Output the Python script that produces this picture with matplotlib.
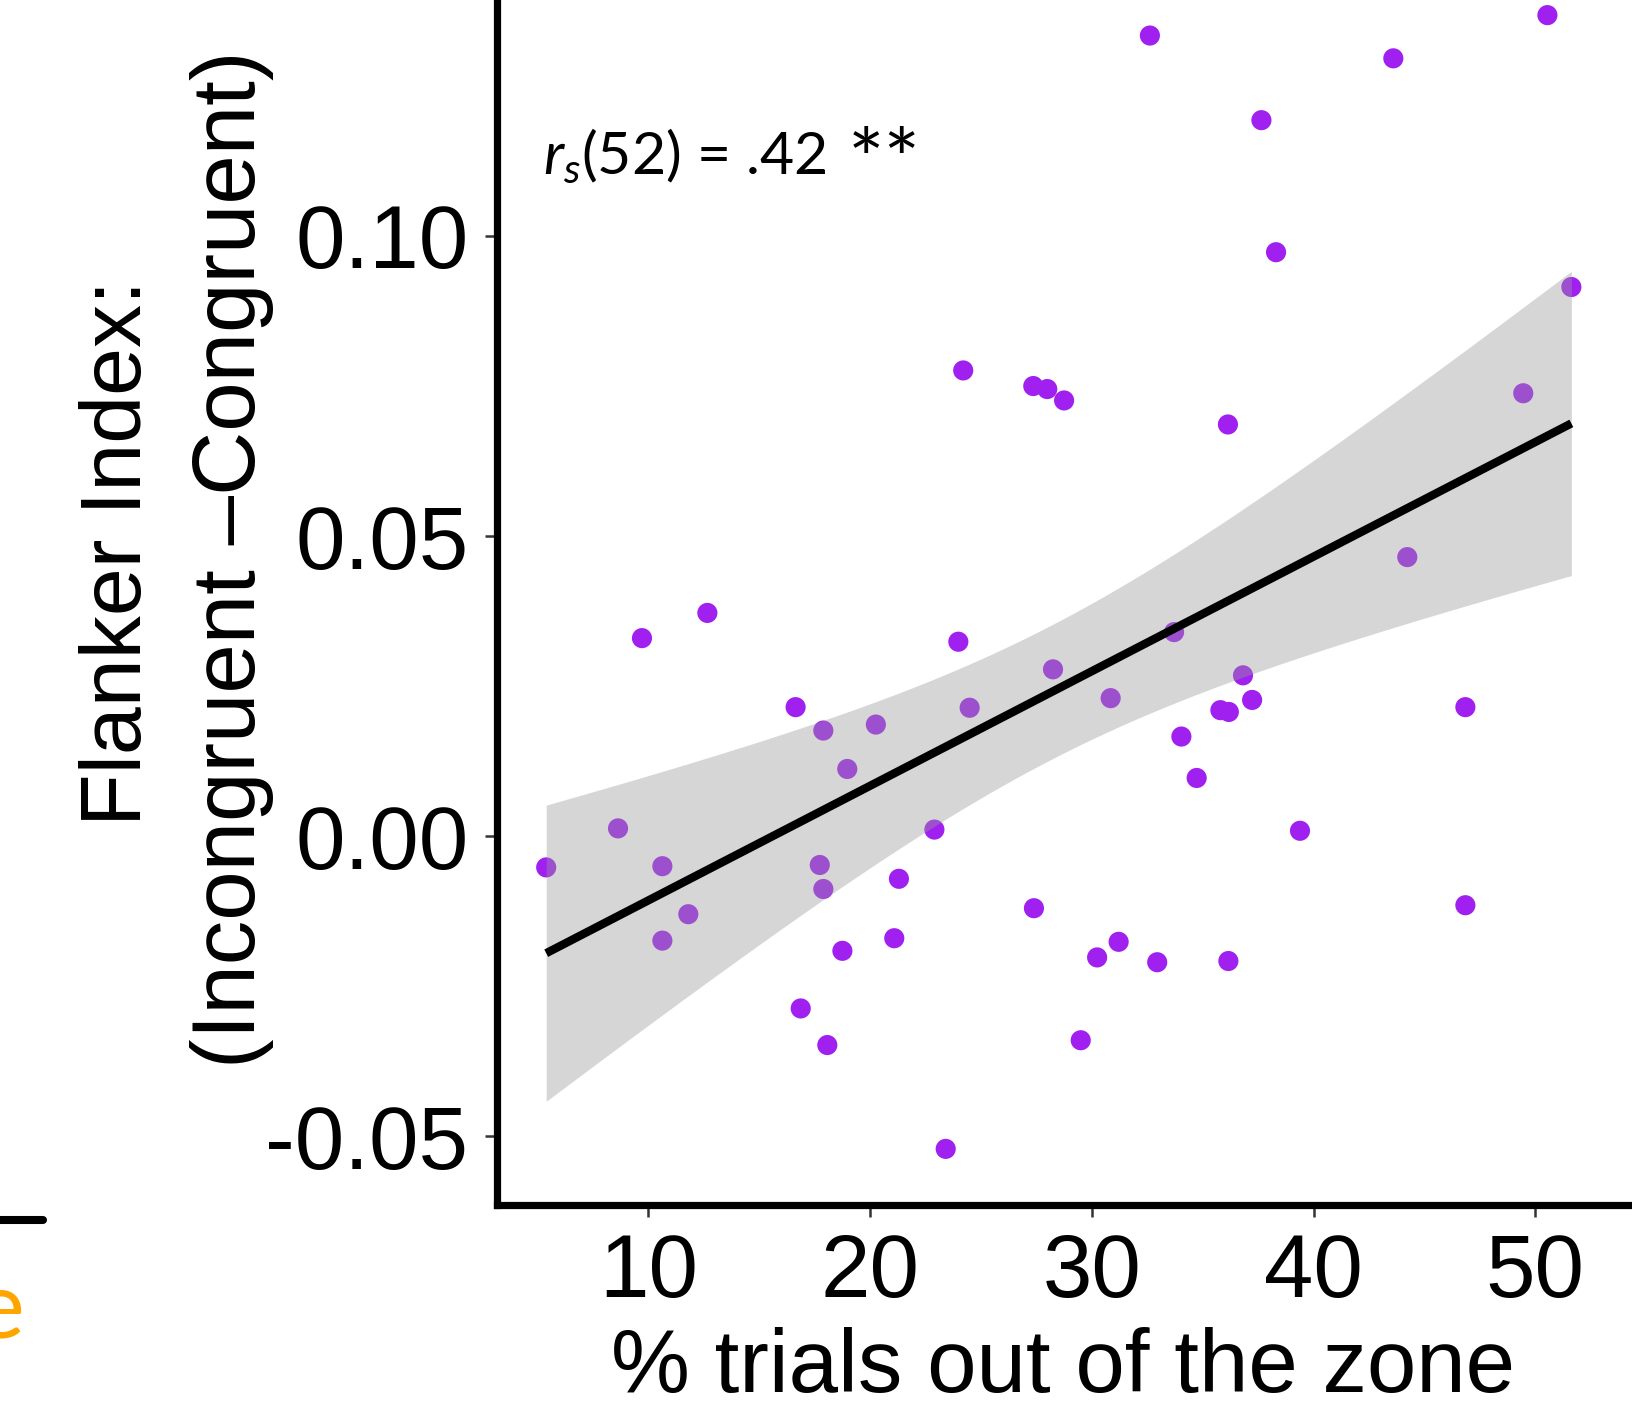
import numpy as np
import matplotlib
matplotlib.use("Agg")
import matplotlib.pyplot as plt
from matplotlib.lines import Line2D

# ---- data ----
pct_out_zone = [5.39, 8.63, 9.71, 10.63, 10.63, 11.80, 12.66, 16.64, 16.87, 17.73,
                17.89, 17.89, 18.07, 18.75, 18.97, 20.26, 21.09, 21.30, 22.90, 23.41,
                23.98, 24.20, 24.49, 27.36, 27.39, 27.99, 28.25, 28.75, 29.50, 30.24,
                30.85, 31.21, 32.62, 32.95, 33.71, 34.04, 34.73, 35.80, 36.18, 36.14,
                36.16, 36.82, 37.23, 37.65, 38.31, 39.39, 43.60, 44.23, 46.85, 46.85,
                49.46, 50.55, 51.63]
flanker_index = [-0.0052, 0.0013, 0.0330, -0.0050, -0.0174, -0.0130, 0.0372, 0.0215, -0.0287, -0.0048,
                 0.0176, -0.0088, -0.0348, -0.0191, 0.0112, 0.0186, -0.0170, -0.0071, 0.0011, -0.0521,
                 0.0324, 0.0776, 0.0214, 0.0750, -0.0120, 0.0745, 0.0278, 0.0726, -0.0340, -0.0202,
                 0.0230, -0.0176, 0.1334, -0.0210, 0.0340, 0.0166, 0.0097, 0.0210, 0.0207, 0.0686,
                 -0.0208, 0.0268, 0.0227, 0.1193, 0.0973, 0.0009, 0.1296, 0.0465, 0.0215, -0.0115,
                 0.0738, 0.1368, 0.0915]
x_ticks = [10, 20, 30, 40, 50]
x_tick_labels = ["10", "20", "30", "40", "50"]
y_ticks = [-0.05, 0.00, 0.05, 0.10]
y_tick_labels = ["-0.05", "0.00", "0.05", "0.10"]
annotation = r"$r_s$(52) = .42"
significance = "**"

W, H = 1632, 1418
fig = plt.figure(figsize=(W / 100, H / 100), dpi=100)
fig.patch.set_facecolor("white")

L, R, B, T = 497, 1629, 1205, 0
ax = fig.add_axes([L / W, 1 - B / H, (R - L) / W, (B - T) / H])
ax.set_xlim(3.171, 54.23)
ax.set_ylim(-0.06145, 0.13932)

x = np.array(pct_out_zone)
y = np.array(flanker_index)

# points (drawn under the ribbon, as in ggplot)
ax.scatter(x, y, s=210, color="#A020F0", edgecolors="none", zorder=2)

# linear fit with 95% CI
n = len(x)
b1, b0 = np.polyfit(x, y, 1)
xs = np.linspace(x.min(), x.max(), 100)
fit = b0 + b1 * xs
resid = y - (b0 + b1 * x)
s = np.sqrt(np.sum(resid ** 2) / (n - 2))
sxx = np.sum((x - x.mean()) ** 2)
tcrit = 2.008
se = s * np.sqrt(1 / n + (xs - x.mean()) ** 2 / sxx)
ax.fill_between(xs, fit - tcrit * se, fit + tcrit * se, color="#999999", alpha=0.4,
                linewidth=0, zorder=3)
ax.plot(xs, fit, color="black", lw=6.0, zorder=4, solid_capstyle="butt")

# axes styling
for side in ["top", "right"]:
    ax.spines[side].set_visible(False)
for side in ["left", "bottom"]:
    ax.spines[side].set_linewidth(5.2)
    ax.spines[side].set_color("black")
    ax.spines[side].set_capstyle("projecting")

ax.set_xticks(x_ticks)
ax.set_xticklabels(x_tick_labels)
ax.set_yticks(y_ticks)
ax.set_yticklabels(y_tick_labels)
ax.tick_params(axis="both", length=8.6, width=1.8, color="#333333",
               labelsize=64, labelcolor="black")
ax.tick_params(axis="x", pad=11)
ax.tick_params(axis="y", pad=12)
for lab in ax.get_xticklabels() + ax.get_yticklabels():
    lab.set_family("Liberation Sans")

# x label
ax.set_xlabel("% trials out of the zone", fontsize=64, family="Liberation Sans",
              labelpad=8)

# y label (two lines)
fig.text(141 / W, 1 - 553 / H, "Flanker Index:", rotation=90, rotation_mode="anchor",
         ha="center", va="baseline", fontsize=62, family="Liberation Sans")
fig.text(255 / W, 1 - 559 / H, "(Incongruent \u2013Congruent)", rotation=90,
         rotation_mode="anchor", ha="center", va="baseline", fontsize=64,
         family="Liberation Sans")

# annotation
plt.rcParams["mathtext.fontset"] = "custom"
plt.rcParams["mathtext.rm"] = "Lato"
plt.rcParams["mathtext.it"] = "Lato:italic"
fig.text(543 / W, 1 - 174 / H, annotation, ha="left", va="baseline",
         fontsize=42.5, family="Lato")
fig.text(848 / W, 1 - 190 / H, significance, ha="left", va="baseline",
         fontsize=62, family="Lato")

# remnants of the neighbouring panel at the bottom-left
fig.add_artist(Line2D([0, 43 / W], [1 - 1220 / H, 1 - 1220 / H], transform=fig.transFigure,
                      color="black", lw=5.8, solid_capstyle="round"))
fig.text(24 / W, 1 - 1337 / H, "e", ha="right", va="baseline", fontsize=68,
         family="Lato", color="#FFA500")

fig.savefig("out.png", dpi=100)
